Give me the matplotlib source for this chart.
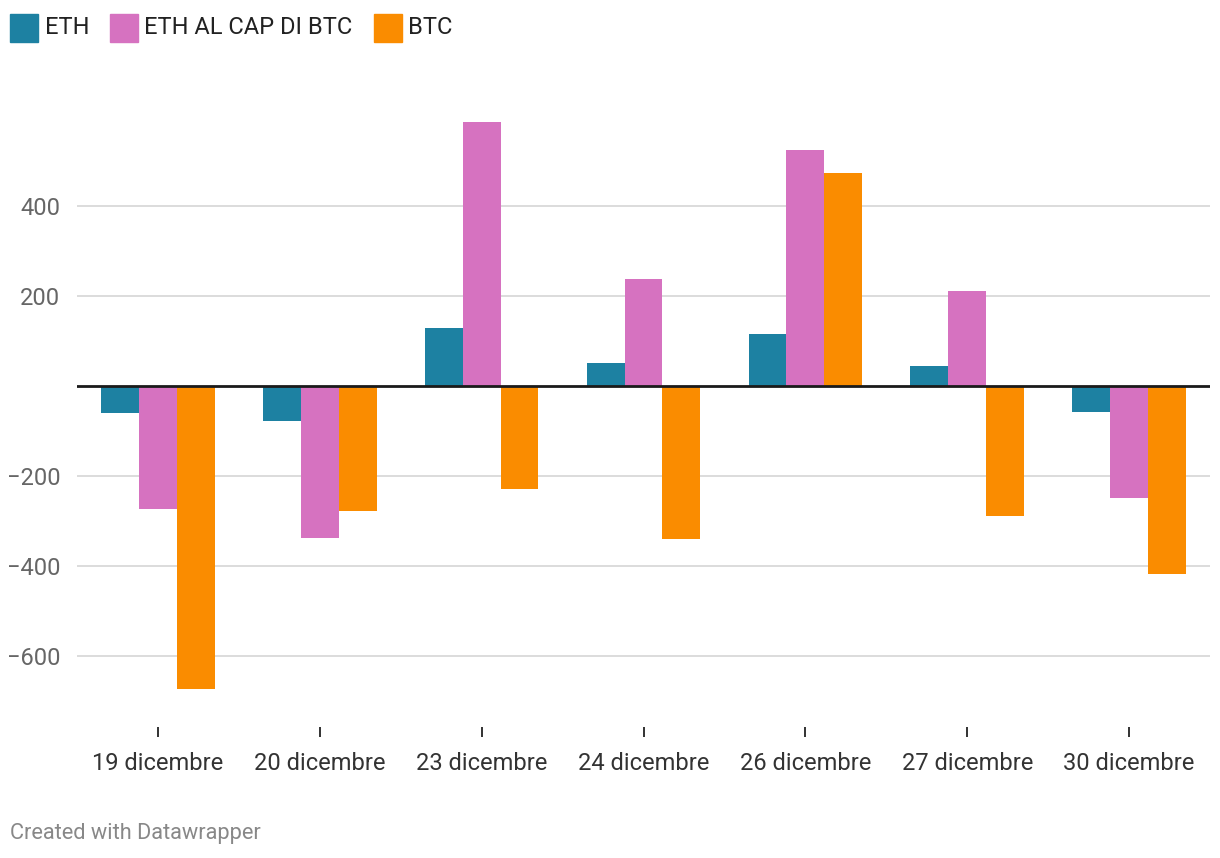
import numpy as np
import matplotlib.pyplot as plt
from matplotlib.patches import Rectangle

plt.rcParams['font.family'] = ['Roboto', 'DejaVu Sans']

# dati
giorni = ['19 dicembre', '20 dicembre', '23 dicembre', '24 dicembre',
          '26 dicembre', '27 dicembre', '30 dicembre']
eth = [-60, -77, 129, 51, 117, 45, -57]
eth_cap_btc = [-272, -338, 587, 238, 525, 211, -249]
btc = [-673, -278, -229, -340, 474, -289, -416]

serie = ['ETH', 'ETH AL CAP DI BTC', 'BTC']
colori = ['#1d81a2', '#d672c0', '#fa8c00']

fig = plt.figure(figsize=(12.2, 8.58), dpi=100)
W, H = 1220, 858
# assi posizionati in pixel: sinistra 77, destra 1210, alto 107, basso 727
ax = fig.add_axes([77 / W, 1 - 727 / H, (1210 - 77) / W, (727 - 107) / H])

x = np.arange(len(giorni))
w = 0.234
for i, (vals, col) in enumerate(zip([eth, eth_cap_btc, btc], colori)):
    ax.bar(x + (i - 1) * w, vals, width=w, color=col, zorder=2, linewidth=0)

ax.set_xlim(-0.5, len(giorni) - 0.5)
ax.set_ylim(-756.7, 620)
ax.set_yticks([-600, -400, -200, 200, 400])
ax.set_yticklabels(['−600', '−400', '−200', '200', '400'])
ax.grid(axis='y', color='#d9d9d9', linewidth=1.3, zorder=0)
ax.axhline(0, color='#1a1a1a', linewidth=2, zorder=3)

ax.set_xticks(x)
ax.set_xticklabels(giorni)
ax.tick_params(axis='x', length=7, width=1.3, color='#222222', pad=11,
               labelsize=17, labelcolor='#333333')
ax.tick_params(axis='y', length=0, pad=12, labelsize=17, labelcolor='#666666')
for s in ax.spines.values():
    s.set_visible(False)

# legenda in alto
leg_x = [(10, 45), (110, 144), (374, 408)]
for (sx, tx), nome, col in zip(leg_x, serie, colori):
    fig.patches.append(Rectangle((sx / W, 1 - 42 / H), 28 / W, 28 / H,
                                 transform=fig.transFigure, color=col))
    fig.text(tx / W, 1 - 27 / H, nome, fontsize=17, color='#222222',
             va='center', ha='left')

fig.text(10 / W, 1 - 834 / H, 'Created with Datawrapper', fontsize=15.7,
         color='#888888', va='center', ha='left')

fig.savefig('out.png', dpi=100, facecolor='white')
